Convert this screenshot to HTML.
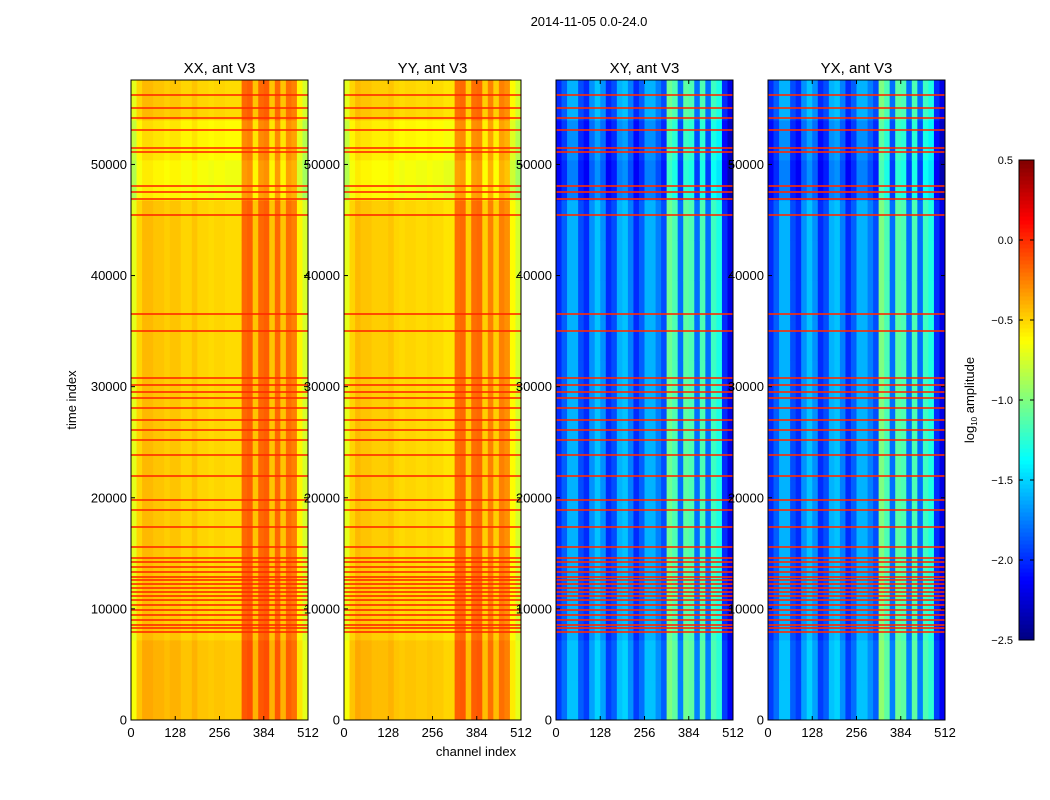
<!DOCTYPE html>
<html><head><meta charset="utf-8"><style>
html,body{margin:0;padding:0;background:#fff;width:1050px;height:800px;overflow:hidden}
svg text{font-family:"Liberation Sans",sans-serif;fill:#000}
</style></head><body>
<svg id="fig" width="1050" height="800" xmlns="http://www.w3.org/2000/svg">
<text x="589" y="26" font-size="13" text-anchor="middle">2014-11-05 0.0-24.0</text>
<text x="76" y="400" font-size="13" text-anchor="middle" transform="rotate(-90 76 400)">time index</text>
<text x="476" y="756" font-size="13" text-anchor="middle">channel index</text>
<g id="panels"></g>
<g id="cbar"></g>
<text x="974" y="400" font-size="13" text-anchor="middle" transform="rotate(-90 974 400)">log<tspan font-size="8" dy="3">10</tspan><tspan dy="-3"> amplitude</tspan></text>
</svg>
<script>
// ---- data ----
const panelTitles = ["XX, ant V3","YY, ant V3","XY, ant V3","YX, ant V3"];
const xTicks = [0,128,256,384,512];
const yTicks = [0,10000,20000,30000,40000,50000];
const cbarTicks = [0.5,0.0,-0.5,-1.0,-1.5,-2.0,-2.5];
const profXX = [-0.7,-0.5,-0.42,-0.42,-0.45,-0.45,-0.48,-0.45,-0.45,-0.5,-0.5,-0.45,-0.5,-0.5,-0.52,-0.5,-0.5,-0.52,-0.52,-0.52,-0.18,-0.15,-0.45,-0.18,-0.15,-0.45,-0.18,-0.45,-0.2,-0.25,-0.6,-0.75];
const profYY = [-0.7,-0.5,-0.42,-0.45,-0.45,-0.48,-0.48,-0.48,-0.45,-0.5,-0.52,-0.5,-0.5,-0.52,-0.52,-0.5,-0.52,-0.52,-0.55,-0.55,-0.2,-0.18,-0.48,-0.2,-0.18,-0.48,-0.25,-0.48,-0.25,-0.3,-0.62,-0.75];
const profXY = [-2.0,-1.85,-1.6,-1.6,-1.9,-2.0,-1.7,-1.55,-1.7,-2.0,-1.9,-1.6,-1.55,-1.75,-2.0,-1.85,-1.6,-1.6,-1.75,-1.9,-1.05,-1.15,-1.8,-1.1,-1.15,-1.8,-1.15,-1.8,-1.2,-1.3,-2.0,-2.2];
const profYX = [-2.0,-1.85,-1.6,-1.6,-1.9,-2.0,-1.7,-1.55,-1.7,-2.0,-1.9,-1.6,-1.55,-1.75,-2.0,-1.85,-1.6,-1.6,-1.75,-1.9,-1.0,-1.15,-1.8,-1.1,-1.15,-1.8,-1.15,-1.8,-1.2,-1.3,-2.0,-2.2];
const timeOffset = [0.05,0.05,0,0,0,0,0,0,0,0,0,0,0,-0.15,-0.1,0];
const flaggedRows = [56250,55080,54180,53100,51480,51120,48060,47520,46890,45450,36540,35010,30780,30150,29520,28980,28080,27000,26100,25200,23850,21960,19800,18900,17370,15570,14580,14220,13770,13320,12870,12600,12240,11880,11520,11160,10800,10350,9900,9450,9000,8550,8280,7920];
const flagValue = 0.0;

const profiles=[profXX,profYY,profXY,profYX];
const panelX=[131,344,556,768], PW=177, PY0=80, PY1=720;
const TMAX=57600, CH=512;
const vmin=-2.5, vmax=0.5;
function jet(v){
  let t=(v-vmin)/(vmax-vmin); t=Math.max(0,Math.min(1,t));
  const f=(x)=>Math.max(0,Math.min(1,x));
  const r=f(1.5-Math.abs(4*t-3)), g=f(1.5-Math.abs(4*t-2)), b=f(1.5-Math.abs(4*t-1));
  return `rgb(${Math.round(r*255)},${Math.round(g*255)},${Math.round(b*255)})`;
}
const NS="http://www.w3.org/2000/svg";
function el(tag,attrs,parent){const e=document.createElementNS(NS,tag);for(const k in attrs)e.setAttribute(k,attrs[k]);parent.appendChild(e);return e;}
const root=document.getElementById('panels');
profiles.forEach((prof,p)=>{
  const x0=panelX[p];
  const sx=c=>x0+c/CH*PW;
  const sy=t=>PY1-t/TMAX*(PY1-PY0);
  const g=el('g',{},root);
  
  
  const hm=el('g',{},g);
  
  
  const cw=CH/prof.length, th=TMAX/timeOffset.length;
  prof.forEach((v,i)=>{
    timeOffset.forEach((o,j)=>{
      const x1=sx(i*cw), x2=sx((i+1)*cw), y1=sy((j+1)*th), y2=sy(j*th);
      const r=el('rect',{x:x1,y:y1,width:x2-x1+0.4,height:y2-y1+0.4,fill:jet(v+o)},hm);
      
      
    });
  });
  flaggedRows.forEach(t=>{
    const r=el('rect',{x:x0,y:sy(t)-0.8,width:PW,height:1.6,fill:jet(flagValue)},hm);
    
    
  });
  const fr=el('rect',{x:x0,y:PY0,width:PW,height:PY1-PY0,fill:'none',stroke:'#000','stroke-width':1},g);
  
  
  const tt=el('text',{x:x0+PW/2,y:73,'font-size':15,'text-anchor':'middle'},g);
  tt.textContent=panelTitles[p];
  
  
  xTicks.forEach(c=>{
    const x=sx(c);
    el('line',{x1:x,x2:x,y1:PY1,y2:PY1-4,stroke:'#000'},g);
    el('line',{x1:x,x2:x,y1:PY0,y2:PY0+4,stroke:'#000'},g);
    const t=el('text',{x:x,y:737,'font-size':13,'text-anchor':'middle'},g);
    t.textContent=c;
    
    
  });
  yTicks.forEach(v=>{
    const y=sy(v);
    el('line',{x1:x0,x2:x0+4,y1:y,y2:y,stroke:'#000'},g);
    el('line',{x1:x0+PW,x2:x0+PW-4,y1:y,y2:y,stroke:'#000'},g);
    const t=el('text',{x:x0-4,y:y+4.5,'font-size':13,'text-anchor':'end'},g);
    t.textContent=v;
    
    
  });
});
// colorbar
const cb=document.getElementById('cbar');
const CX=1019,CW=15,CY0=160,CY1=640;
for(let i=0;i<120;i++){
  const v=vmin+(i+0.5)/120*(vmax-vmin);
  const y=CY1-(i+1)/120*(CY1-CY0);
  el('rect',{x:CX,y:y,width:CW,height:(CY1-CY0)/120+0.5,fill:jet(v)},cb);
}
el('rect',{x:CX,y:CY0,width:CW,height:CY1-CY0,fill:'none',stroke:'#000'},cb);
cbarTicks.forEach(v=>{
  const y=CY1-(v-vmin)/(vmax-vmin)*(CY1-CY0);
  el('line',{x1:CX,x2:CX+4,y1:y,y2:y,stroke:'#000'},cb);
  el('line',{x1:CX+CW,x2:CX+CW-4,y1:y,y2:y,stroke:'#000'},cb);
  const t=el('text',{x:1013,y:y+4,'font-size':11,'text-anchor':'end'},cb);
  t.textContent=v.toFixed(1).replace('-','\u2212');
  
  
});
</script>
</body></html>
